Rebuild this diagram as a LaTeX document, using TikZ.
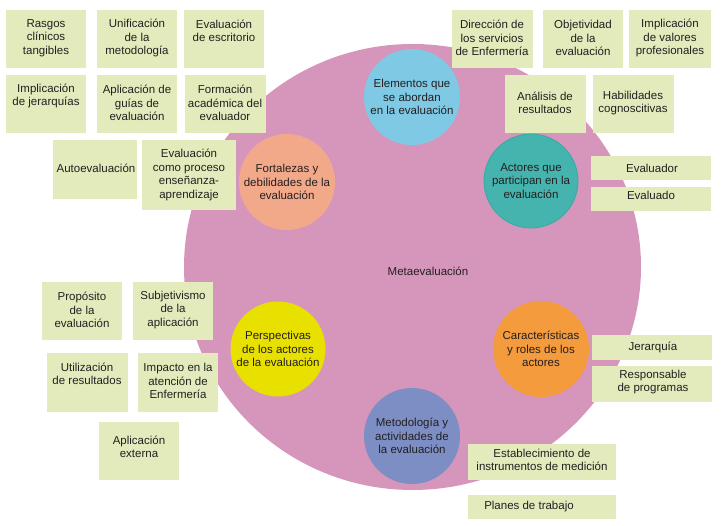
\documentclass[tikz,border=0pt]{standalone}
\usepackage{fontspec}
\setmainfont{Liberation Sans}
\definecolor{pinkbg}{HTML}{D696BB}
\definecolor{boxg}{HTML}{E3EBBD}
\definecolor{cElem}{HTML}{7FC9E4}
\definecolor{cAct}{HTML}{45B4AE}
\definecolor{cActB}{HTML}{34ABA3}
\definecolor{cFort}{HTML}{F2A98A}
\definecolor{cPers}{HTML}{E8E100}
\definecolor{cCar}{HTML}{F39B3D}
\definecolor{cMet}{HTML}{7D8EC5}
\definecolor{txtc}{HTML}{231F20}
\tikzset{
  txt/.style={align=center, text=txtc, inner sep=0pt, font=\fontsize{11.5}{13.5}\selectfont},
  boxr/.style={fill=boxg, draw=none, inner sep=0pt},
  bub/.style={circle, draw=none, minimum size=96pt, inner sep=0pt, align=center, text=txtc, font=\fontsize{11.5}{13.5}\selectfont}
}
\newcommand{\bx}[5]{\node[boxr, minimum width={#3-#1}, minimum height={#4-#2}] (#5) at ({(#1+#3)/2},{(#2+#4)/2}) {};}
\begin{document}
\begin{tikzpicture}[x=1pt,y=-1pt]
\useasboundingbox[fill=white] (0,0) rectangle (723,526);
% big circle
\fill[pinkbg] (412.5,267) ellipse [x radius=228.5pt, y radius=223pt];
\coordinate (meta) at (412.5,267);
\node[txt] (metatxt) at (428,271) {Metaevaluación};
% bubbles
\node[bub, fill=cElem] (elem) at (412,97) {Elementos que\\se abordan\\en la evaluación};
\node[bub, fill=cAct, draw=cActB, line width=0.8pt, minimum size=94pt] (act) at (531,181) {Actores que\\participan en la\\evaluación};
\node[bub, fill=cFort] (fort) at (287,182) {Fortalezas y\\debilidades de la\\evaluación};
\node[bub, fill=cPers, minimum size=95pt] (pers) at (278,349) {Perspectivas\\de los actores\\de la evaluación};
\node[bub, fill=cCar] (car) at (541,349) {Características\\y roles de los\\actores};
\node[bub, fill=cMet] (met) at (412,436) {Metodología y\\actividades de\\la evaluación};
% boxes top-left
\bx{6}{10}{86}{68}{b1}
\node[txt] (t1) at (46,38) {Rasgos\\clínicos\\tangibles};
\bx{97}{10}{177}{68}{b2}
\node[txt] (t2) at (137,38) {Unificación\\de la\\metodología};
\bx{184}{10}{264}{68}{b3}
\node[txt] (t3) at (224,31) {Evaluación\\de escritorio};
\bx{6}{75}{86}{133}{b4}
\node[txt] (t4) at (46,96) {Implicación\\de jerarquías};
\bx{97}{75}{177}{133}{b5}
\node[txt] (t5) at (137,103) {Aplicación de\\guías de\\evaluación};
\bx{185}{75}{266}{133}{b6}
\node[txt] (t6) at (225,103) {Formación\\académica del\\evaluador};
\bx{53}{140}{137}{199}{b7}
\node[txt] (t7) at (96,168) {Autoevaluación};
\bx{142}{140}{236}{210}{b8}
\node[txt] (t8) at (189,175) {Evaluación\\como proceso\\enseñanza-\\aprendizaje};
% boxes top-right
\bx{452}{10}{533}{68}{b9}
\node[txt] (t9) at (492,38) {Dirección de\\los servicios\\de Enfermería};
\bx{543}{10}{623}{68}{b10}
\node[txt] (t10) at (583,38) {Objetividad\\de la\\evaluación};
\bx{629}{10}{711}{68}{b11}
\node[txt] (t11) at (670,38) {Implicación\\de valores\\profesionales};
\bx{505}{75}{586}{133}{b12}
\node[txt] (t12) at (545,103) {Análisis de\\resultados};
\bx{593}{75}{674}{133}{b13}
\node[txt] (t13) at (633,103) {Habilidades\\cognoscitivas};
\bx{591}{156}{711}{180}{b14}
\node[txt] (t14) at (652,168) {Evaluador};
\bx{591}{187}{711}{211}{b15}
\node[txt] (t15) at (651,195) {Evaluado};
% boxes bottom-left
\bx{42}{282}{122}{340}{b16}
\node[txt] (t16) at (82,310) {Propósito\\de la\\evaluación};
\bx{133}{282}{213}{340}{b17}
\node[txt] (t17) at (173,310) {Subjetivismo\\de la\\aplicación};
\bx{47}{353}{128}{412}{b18}
\node[txt] (t18) at (87,374) {Utilización\\de resultados};
\bx{138}{353}{218}{412}{b19}
\node[txt] (t19) at (178,381) {Impacto en la\\atención de\\Enfermería};
\bx{99}{422}{179}{480}{b20}
\node[txt] (t20) at (139,447) {Aplicación\\externa};
% boxes bottom-right
\bx{592}{335}{712}{360}{b21}
\node[txt] (t21) at (653,347) {Jerarquía};
\bx{592}{366}{712}{402}{b22}
\node[txt] (t22) at (653,382) {Responsable\\de programas};
\bx{468}{444}{616}{480}{b23}
\node[txt] (t23) at (542,460) {Establecimiento de\\instrumentos de medición};
\bx{468}{495}{616}{519}{b24}
\node[txt] (t24) at (529,507) {Planes de trabajo};
\end{tikzpicture}
\end{document}
